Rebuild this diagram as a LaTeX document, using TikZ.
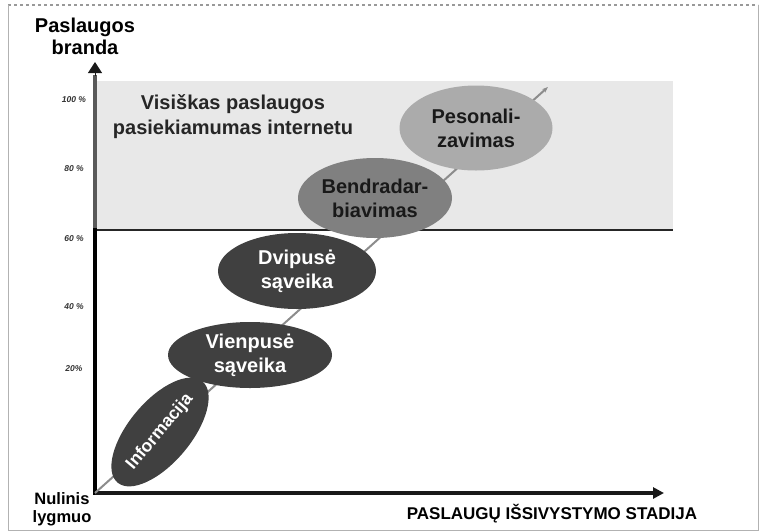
\documentclass[tikz,border=0pt]{standalone}
\usepackage{fontspec}
\setmainfont{Liberation Sans}
\usetikzlibrary{shapes.geometric,arrows.meta}

\tikzset{
  phase/.style={ellipse, draw=none, inner sep=0pt, align=center,
    font=\bfseries\fontsize{20}{24}\selectfont},
  darkphase/.style={phase, fill=black!75, text=white},
  tick/.style={font=\bfseries\itshape\fontsize{8.5}{9}\selectfont, text=black!80},
  axislabel/.style={font=\bfseries\fontsize{20}{22}\selectfont, align=center}
}

\begin{document}
\begin{tikzpicture}[x=1pt,y=-1pt]
                \useasboundingbox (0, 0) rectangle (760, 531);
                % frame
                \draw [black!40, dashed, line width=1.2pt] (8, 5) -- (758, 5);
                \draw [black!30] (8, 5) -- (8, 530) -- (758, 530) -- (758, 5);
                % top zone
                \fill [black!9] (95, 81) rectangle (673, 230);
                \draw [black!85, line width=1.6pt] (95, 230) -- (673, 230);
                \node [phase, text=black!85, font=\bfseries\fontsize{20}{25}\selectfont] (zone) at (233, 117) {Visiškas paslaugos\\pasiekiamumas internetu};
                % axes
                \coordinate (origin) at (95, 493);
                \coordinate (ytop) at (95, 62);
                \coordinate (xend) at (664, 493);
                \coordinate (ysplit) at (95, 230);
                \draw [black!65, line width=4.5pt] (ysplit) -- (95, 75);
                \draw [-{Triangle[length=11pt, width=14pt]}, black!90, line width=1pt] (95, 76) -- (ytop);
                \draw [line width=4.5pt, line cap=rect] (origin) -- (ysplit);
                \draw [-{Triangle[length=11pt, width=11pt]}, black!90, line width=4.5pt] (origin) -- (xend);
                % diagonal
                \coordinate (diagend) at (548, 87);
                \draw [-{Stealth[length=6pt]}, black!45, line width=2pt] (origin) -- (diagend);
                % ticks
                \foreach \lab/\y in {100 \%/100, 80 \%/169, 60 \%/239, 40 \%/307, 20\%/369}
                    \node [tick] at (74, \y) {\lab};
                % phases
                \node [darkphase, rotate=50, font=\bfseries\fontsize{17.5}{20}\selectfont, minimum width=120pt, minimum height=62pt] (info) at (160, 432) {Informacija};
                \node [darkphase, minimum width=164pt, minimum height=66pt] (one) at (250, 355) {Vienpusė\\sąveika};
                \node [darkphase, minimum width=158pt, minimum height=76pt] (two) at (297, 271) {Dvipusė\\sąveika};
                \node [phase, fill=black!50, text=black!90, minimum width=154pt, minimum height=80pt] (collab) at (375, 198) {Bendradar-\\biavimas};
                \node [phase, fill=black!33, text=black!90, minimum width=153pt, minimum height=85pt] (pers) at (476, 128) {Pesonali-\\zavimas};
                % axis labels
                \node [axislabel] (ylab) at (85, 36) {Paslaugos\\branda};
                \node [axislabel, font=\bfseries\fontsize{16.5}{18}\selectfont] (zero) at (62, 509) {Nulinis\\lygmuo};
                \node [axislabel, font=\bfseries\fontsize{17}{19}\selectfont] (xlab) at (552, 514) {PASLAUGŲ IŠSIVYSTYMO STADIJA};
            \end{tikzpicture}
\end{document}
